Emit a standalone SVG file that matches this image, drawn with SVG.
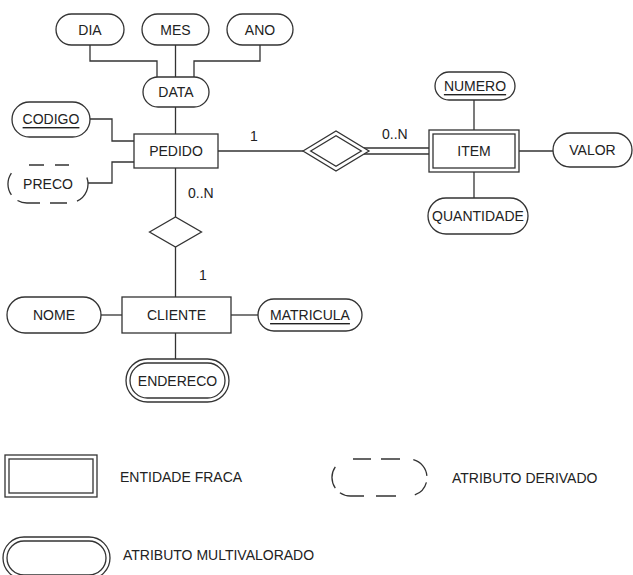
<svg xmlns="http://www.w3.org/2000/svg" width="633" height="575" viewBox="0 0 633 575">
<style>
  .shape { fill: #fff; stroke: #333; stroke-width: 1.3; }
  .dash { fill: none; stroke: #333; stroke-width: 1.3; }
  .conn { fill: none; stroke: #333; stroke-width: 1.3; }
  text { font-family: "Liberation Sans", Arial, sans-serif; font-size: 14px; fill: #222; }
  .c { text-anchor: middle; dominant-baseline: central; }
  .u { text-decoration: underline; }
</style>
<rect width="633" height="575" fill="#fff"/>

<g id="connectors">
  <path class="conn" d="M90,45 V61 H157 V77"/>
  <path class="conn" d="M175.5,45 V77"/>
  <path class="conn" d="M260,45 V61 H194 V77"/>
  <path class="conn" d="M175.5,107 V134"/>
  <path class="conn" d="M90,119 H112 V141 H134"/>
  <path class="conn" d="M88,183 H112 V162 H134"/>
  <path class="conn" d="M218,151 H303"/>
  <path class="conn" d="M364,148 H429 M364,154 H429"/>
  <path class="conn" d="M474,100 V130"/>
  <path class="conn" d="M519,151 H553"/>
  <path class="conn" d="M474,172 V198"/>
  <path class="conn" d="M175.5,168 V217"/>
  <path class="conn" d="M175.5,247 V297"/>
  <path class="conn" d="M101,315 H122"/>
  <path class="conn" d="M231,315 H258"/>
  <path class="conn" d="M175.5,333 V359"/>
  <text x="254" y="141" text-anchor="middle">1</text>
  <text x="188" y="198">0..N</text>
  <text x="382" y="139">0..N</text>
  <text x="203" y="280" text-anchor="middle">1</text>
</g>

<g id="DIA"><rect class="shape" x="56" y="14" width="68" height="31" rx="15.5"/><text class="c" x="90" y="29.5">DIA</text></g>
<g id="MES"><rect class="shape" x="142" y="14" width="67" height="31" rx="15.5"/><text class="c" x="175.5" y="29.5">MES</text></g>
<g id="ANO"><rect class="shape" x="227" y="14" width="66" height="31" rx="15.5"/><text class="c" x="260" y="29.5">ANO</text></g>
<g id="DATA"><rect class="shape" x="143" y="77" width="66" height="30" rx="15"/><text class="c" x="176" y="92">DATA</text></g>
<g id="CODIGO"><rect class="shape" x="12" y="102" width="78" height="35" rx="17.5"/><text class="c u" x="51" y="119">CODIGO</text></g>
<g id="PRECO">
  <path class="dash" d="M11.4,173.1 A19,19 0 0 0 11.4,194.9 M29,165 H44 M55,165 H69 M86.9,177.5 A19,19 0 0 1 77,201.2 M17.5,200.5 A19,19 0 0 0 27,203 H40 M50,203 H67"/>
  <text class="c" x="48" y="184">PRECO</text>
</g>
<g id="PEDIDO"><rect class="shape" x="134" y="134" width="84" height="34"/><text class="c" x="176" y="151">PEDIDO</text></g>
<g id="REL_PEDIDO_ITEM">
  <polygon class="shape" points="303,151 336,131 369,151 336,171"/>
  <polygon class="shape" points="310.7,151 336,135.7 361.3,151 336,166.3"/>
</g>
<g id="ITEM">
  <rect class="shape" x="429" y="130" width="90" height="42"/>
  <rect class="shape" x="433" y="134" width="82" height="34"/>
  <text class="c" x="474" y="151">ITEM</text>
</g>
<g id="NUMERO"><rect class="shape" x="435" y="72" width="80" height="28" rx="14"/><text class="c u" x="475" y="86">NUMERO</text></g>
<g id="VALOR"><rect class="shape" x="553" y="133" width="79" height="34" rx="17"/><text class="c" x="592.5" y="150">VALOR</text></g>
<g id="QUANTIDADE"><rect class="shape" x="428" y="198" width="100" height="36" rx="18"/><text class="c" x="478" y="216">QUANTIDADE</text></g>
<g id="REL_PEDIDO_CLIENTE"><polygon class="shape" points="149.5,232 175.5,217 201.5,232 175.5,247"/></g>
<g id="CLIENTE"><rect class="shape" x="122" y="297" width="109" height="36"/><text class="c" x="176.5" y="315">CLIENTE</text></g>
<g id="NOME"><rect class="shape" x="7" y="297" width="94" height="36" rx="18"/><text class="c" x="54" y="315">NOME</text></g>
<g id="MATRICULA"><rect class="shape" x="258" y="299" width="104" height="32" rx="16"/><text class="c u" x="310" y="315">MATRICULA</text></g>
<g id="ENDERECO">
  <rect class="shape" x="126" y="359" width="103" height="43" rx="21.5"/>
  <rect class="shape" x="130" y="363" width="95" height="35" rx="17.5"/>
  <text class="c" x="177.5" y="380.5">ENDERECO</text>
</g>

<g id="legend-weak">
  <rect class="shape" x="5" y="455" width="92" height="42"/>
  <rect class="shape" x="9" y="459" width="84" height="34"/>
  <text x="120" y="482">ENTIDADE FRACA</text>
</g>
<g id="legend-derived">
  <path class="dash" d="M335.3,466.9 A18.5,18.5 0 0 0 335.3,488.1 M353,459 H371 M381,459 H400 M413.3,459.6 A18.5,18.5 0 0 1 426.9,475.9 M426.4,482.3 A18.5,18.5 0 0 1 414.8,494.9 M339.9,492.7 A18.5,18.5 0 0 0 350.5,496 H364 M376,496 H396"/>
  <text x="452" y="483">ATRIBUTO DERIVADO</text>
</g>
<g id="legend-multi">
  <rect class="shape" x="3" y="537" width="107" height="42" rx="21"/>
  <rect class="shape" x="7" y="541" width="99" height="34" rx="17"/>
  <text x="123" y="560">ATRIBUTO MULTIVALORADO</text>
</g>
</svg>
